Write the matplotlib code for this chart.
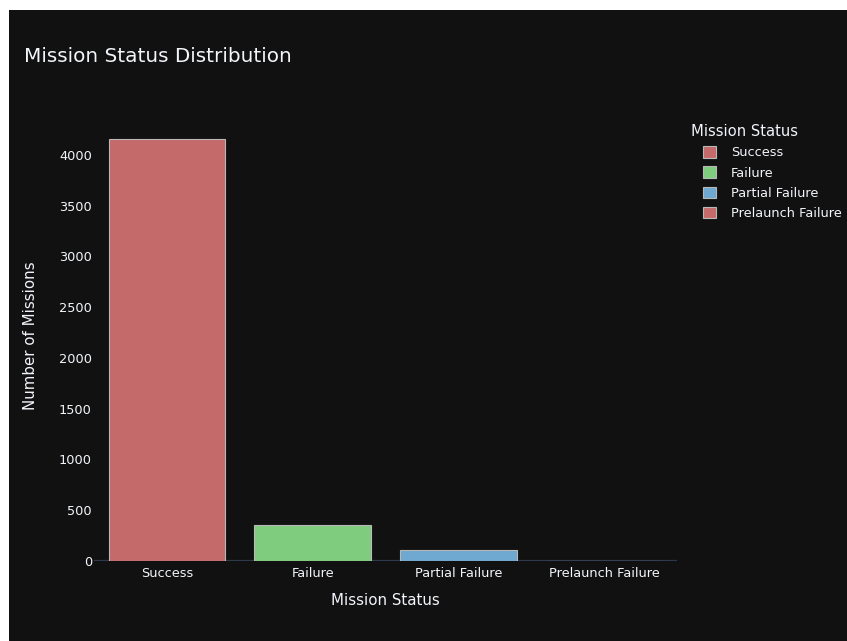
import matplotlib.pyplot as plt
from matplotlib.patches import Patch

# mission status counts
statuses = ["Success", "Failure", "Partial Failure", "Prelaunch Failure"]
counts = [4162, 357, 107, 4]
colors = ["#c46a6a", "#7fcc7f", "#6fa8d0", "#c46a6a"]
yticks = [0, 500, 1000, 1500, 2000, 2500, 3000, 3500, 4000]

W, H = 847, 641
BG = "#111111"
FG = "#f2f5fa"
EDGE = "#b8b8b8"

plt.rcParams['font.family'] = ['DejaVu Sans']

fig = plt.figure(figsize=(W / 100, H / 100), dpi=100)
fig.patch.set_facecolor("white")

def fx(px):
    return px / W

def fy(py):
    return 1 - py / H

# dark canvas (leaves a thin white strip left/top like the screenshot)
bg = fig.add_axes([fx(9), 0, 1 - fx(9), fy(10)], zorder=-10)
bg.set_facecolor(BG)
bg.set_xticks([])
bg.set_yticks([])
for sp in bg.spines.values():
    sp.set_visible(False)

ax = fig.add_axes([fx(94), fy(561), fx(677) - fx(94), (561 - 110) / H], zorder=1)
ax.set_facecolor(BG)

for i, (s, c, col) in enumerate(zip(statuses, counts, colors)):
    ax.bar(i, c, width=0.8, color=col, edgecolor=EDGE, linewidth=0.8, zorder=2)

ax.set_xlim(-0.5, 3.5)
ax.set_ylim(0, 4443)
ax.set_xticks(range(len(statuses)))
ax.set_xticklabels(statuses)
ax.set_yticks(yticks)
ax.tick_params(axis="both", colors=FG, labelsize=9.3, length=0)
ax.tick_params(axis="y", pad=1.5)
ax.tick_params(axis="x", pad=4)
for sp in ax.spines.values():
    sp.set_visible(False)
ax.axhline(0, color="#2c3a4c", linewidth=1.6, zorder=1)

ax.set_xlabel("Mission Status", color=FG, fontsize=10.8, labelpad=9.5)
ax.set_ylabel("Number of Missions", color=FG, fontsize=10.8, labelpad=15)

fig.text(fx(24), fy(57), "Mission Status Distribution", color=FG, fontsize=14.4,
         ha="left", va="center")

# legend: title on its own, items indented beneath it
fig.text(fx(691), fy(131), "Mission Status", color=FG, fontsize=10.6,
         ha="left", va="center")
handles = [Patch(facecolor=col, edgecolor=EDGE, linewidth=0.8) for col in colors]
leg = fig.legend(handles, statuses, loc="upper left", bbox_to_anchor=(fx(703), fy(146)),
                 frameon=False, fontsize=9.3, handlelength=1.0, handleheight=1.0,
                 handletextpad=1.15, labelspacing=0.55, borderaxespad=0, borderpad=0)
for t in leg.get_texts():
    t.set_color(FG)

fig.savefig("out.png", dpi=100, facecolor=fig.get_facecolor())
